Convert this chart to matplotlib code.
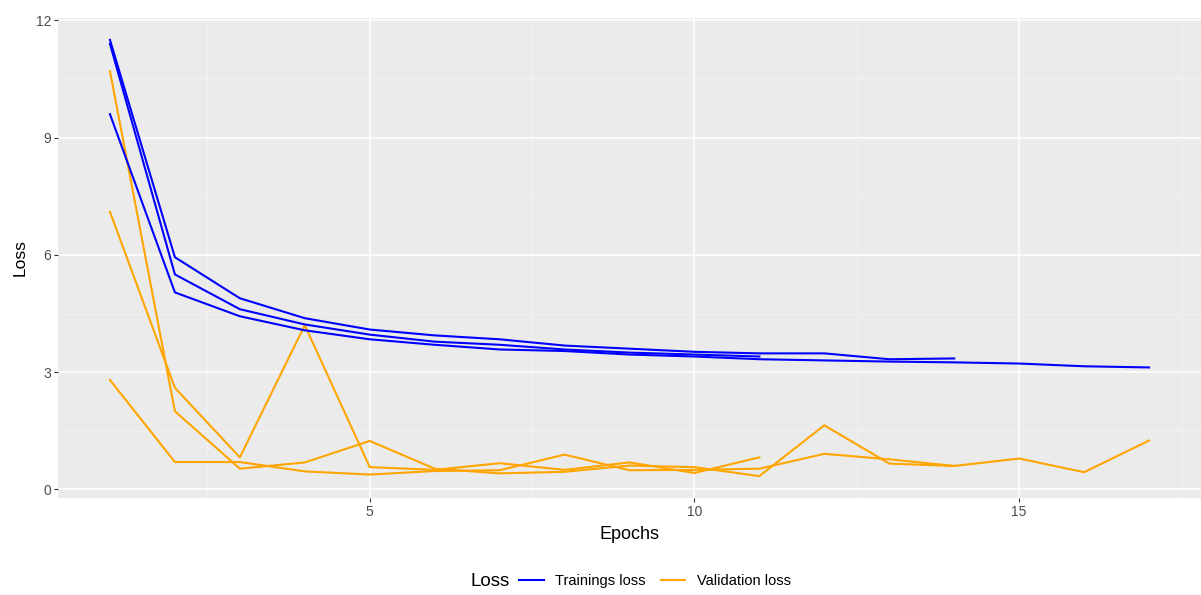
import matplotlib
matplotlib.use("Agg")
import matplotlib.pyplot as plt
from matplotlib.lines import Line2D

plt.rcParams['font.family'] = ['Liberation Sans', 'DejaVu Sans']

# Training loss runs (epochs start at 1)
train_run_a = [11.5, 5.94, 4.89, 4.38, 4.09, 3.94, 3.84, 3.68, 3.60, 3.52, 3.48, 3.48, 3.33, 3.35]
train_run_b = [11.4, 5.50, 4.61, 4.22, 3.96, 3.78, 3.70, 3.58, 3.50, 3.45, 3.40]
train_run_c = [9.6, 5.04, 4.43, 4.07, 3.84, 3.70, 3.58, 3.54, 3.45, 3.40, 3.33, 3.30, 3.27, 3.25, 3.22, 3.15, 3.12]

# Validation loss runs
val_run_a = [10.7, 2.0, 0.53, 0.69, 1.24, 0.53, 0.41, 0.45, 0.61, 0.57, 0.34, 1.64, 0.66, 0.60]
val_run_b = [7.1, 2.6, 0.82, 4.2, 0.57, 0.50, 0.67, 0.50, 0.69, 0.42, 0.82]
val_run_c = [2.8, 0.70, 0.70, 0.46, 0.38, 0.47, 0.49, 0.89, 0.49, 0.50, 0.53, 0.91, 0.77, 0.60, 0.79, 0.44, 1.25]

x_ticks = [5, 10, 15]
y_ticks = [0, 3, 6, 9, 12]
legend_labels = ["Trainings loss", "Validation loss"]
colors = {"train": "#0000FF", "val": "#FFA500"}

W, H = 1201, 595
fig = plt.figure(figsize=(W / 100, H / 100), dpi=100)
fig.patch.set_facecolor("white")
left, right, top, bottom = 58, 1201, 18, 498
ax = fig.add_axes([left / W, (H - bottom) / H, (right - left) / W, (bottom - top) / H])
ax.set_facecolor("#EBEBEB")
for s in ax.spines.values():
    s.set_visible(False)

ax.set_xlim(0.2, 17.8)
ax.set_ylim(-0.22, 12.06)

# grid
for v in [2.5, 7.5, 12.5, 17.5]:
    ax.axvline(v, color="#F4F4F4", lw=0.5, zorder=0)
for v in [1.5, 4.5, 7.5, 10.5]:
    ax.axhline(v, color="#F4F4F4", lw=0.5, zorder=0)
for v in x_ticks:
    ax.axvline(v, color="white", lw=1.1, zorder=0)
for v in y_ticks:
    ax.axhline(v, color="white", lw=1.1, zorder=0)

for run in [val_run_a, val_run_b, val_run_c]:
    ax.plot(range(1, len(run) + 1), run, color=colors["val"], lw=1.5, zorder=2)
for run in [train_run_a, train_run_b, train_run_c]:
    ax.plot(range(1, len(run) + 1), run, color=colors["train"], lw=1.5, zorder=3)

ax.set_xticks(x_ticks)
ax.set_yticks(y_ticks)
ax.tick_params(axis="both", colors="#333333", labelcolor="#4D4D4D", labelsize=10,
               length=3, width=0.8, pad=2)
ax.set_xlabel("Epochs", fontsize=13, color="black", labelpad=5)
ax.set_ylabel("Loss", fontsize=12.5, color="black", labelpad=6)

# legend at bottom
fig.text(490 / W, 1 - 581 / H, "Loss", fontsize=13.5, ha="center", va="center")
handles = [Line2D([], [], color=colors["train"], lw=1.5),
           Line2D([], [], color=colors["val"], lw=1.5)]
leg = fig.legend(handles, legend_labels, loc="center", bbox_to_anchor=(655 / W, 1 - 581 / H),
                 ncol=2, frameon=False, fontsize=10.5, handlelength=1.7, handletextpad=0.8,
                 columnspacing=1.0)

fig.savefig("out.png", dpi=100, facecolor="white")
